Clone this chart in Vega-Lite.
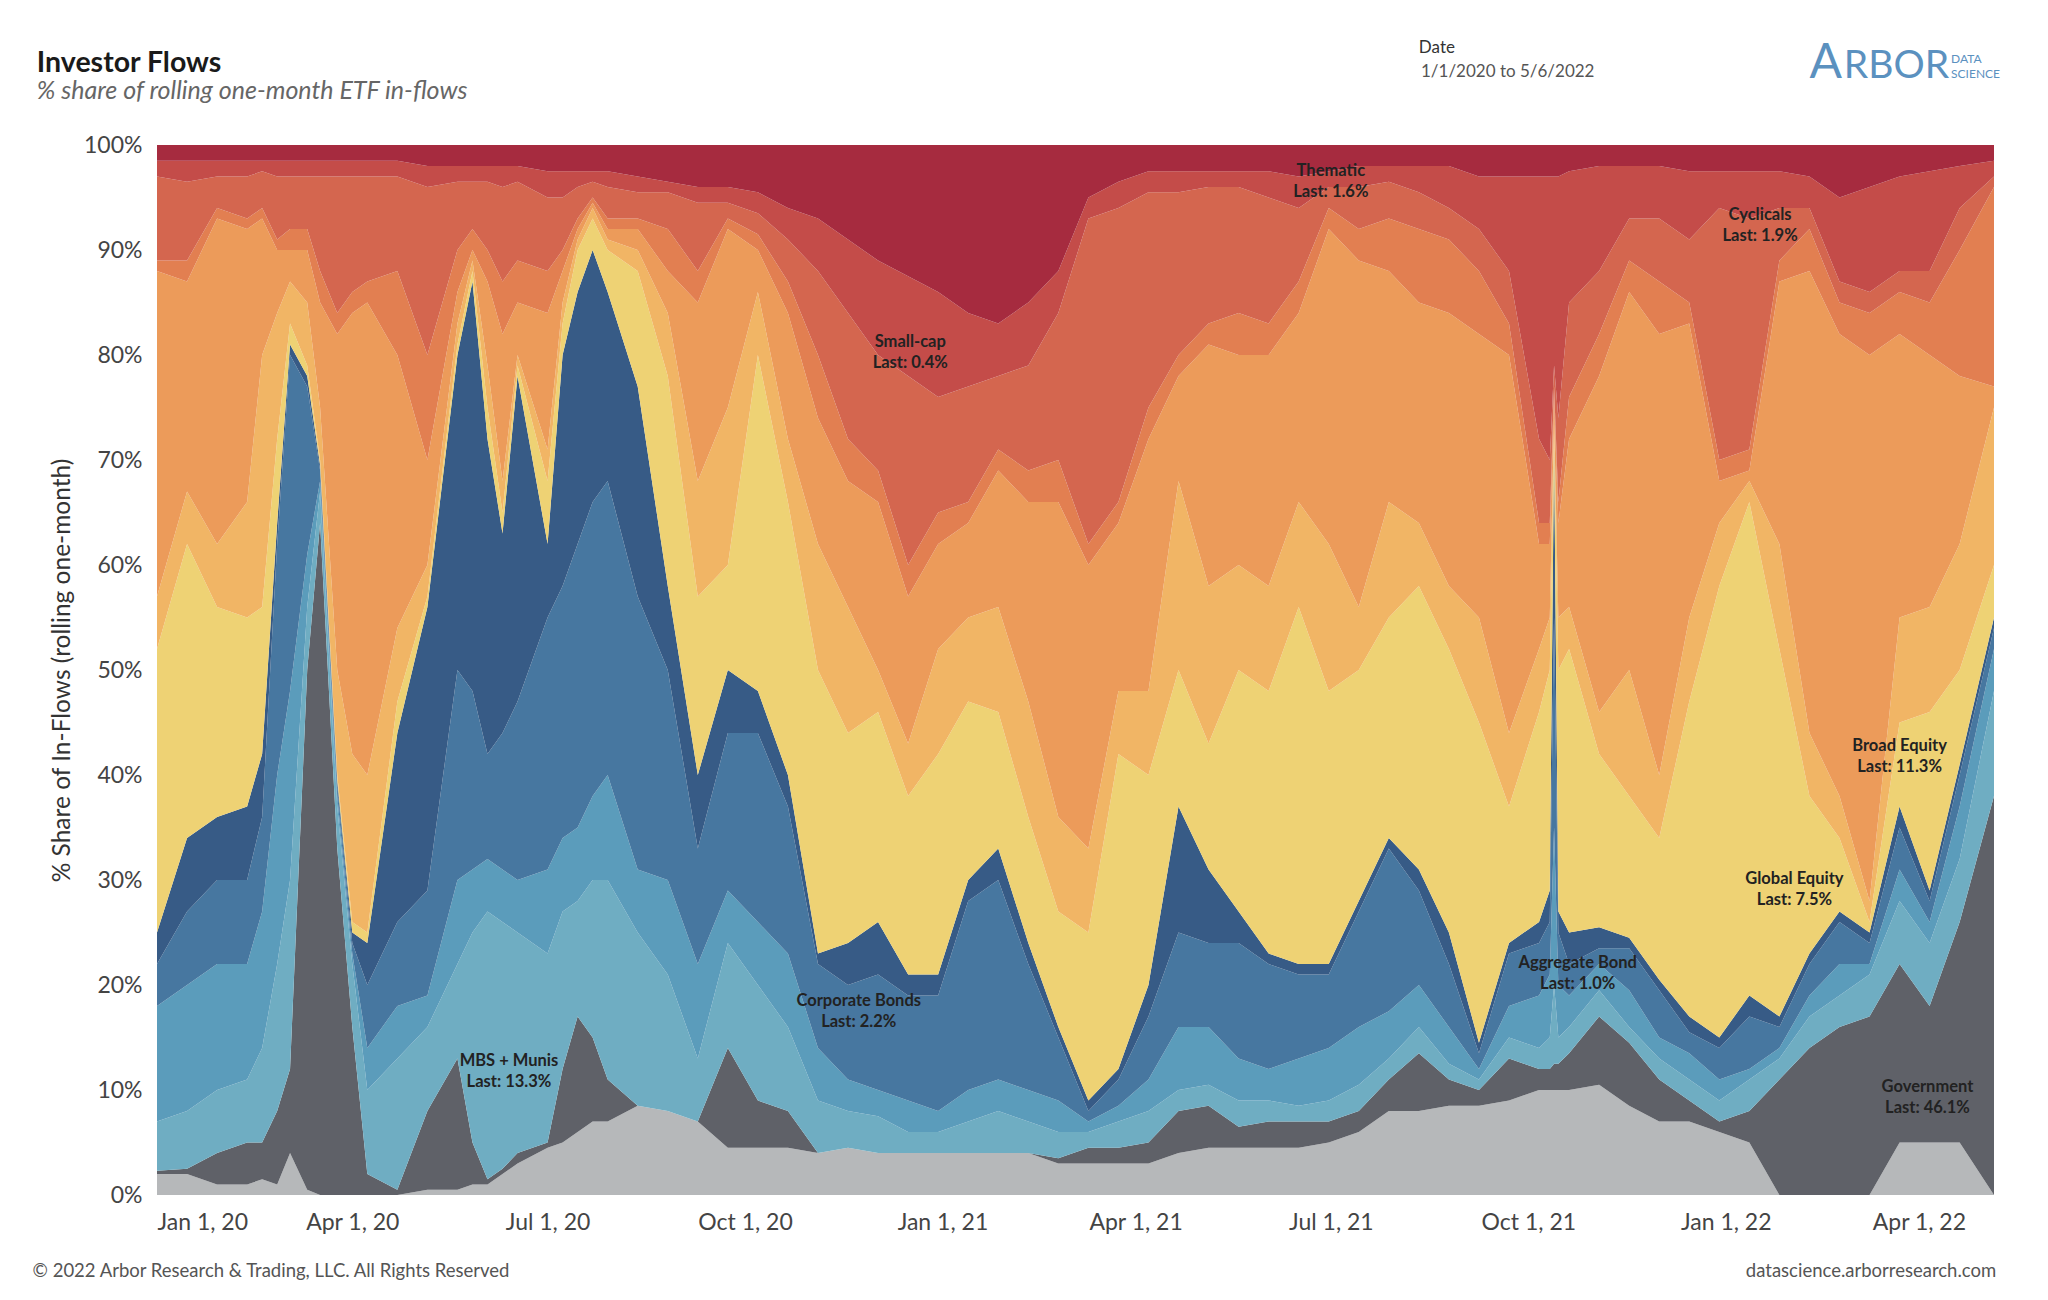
{
  "$schema": "https://vega.github.io/schema/vega-lite/v6.json",
  "width": 1837,
  "height": 1050,
  "autosize": {"type": "none"},
  "padding": {"left": 157, "top": 145, "right": 54, "bottom": 105},
  "background": "white",
  "config": {"view": {"stroke": null}, "font": "Lato"},
  "datasets": {
    "series": [
      {"s": "cash", "rank": 1},
      {"s": "gov", "rank": 2},
      {"s": "mbs", "rank": 3},
      {"s": "hy", "rank": 4},
      {"s": "corp", "rank": 5},
      {"s": "agg", "rank": 6},
      {"s": "global", "rank": 7},
      {"s": "broad", "rank": 8},
      {"s": "growth", "rank": 9},
      {"s": "value", "rank": 10},
      {"s": "cyc", "rank": 11},
      {"s": "small", "rank": 12},
      {"s": "thematic", "rank": 13}
    ],
    "labels": [
      {"d": "2021-07-01", "p": 0.975, "t": "Thematic\nLast: 1.6%"},
      {"d": "2022-01-17", "p": 0.933, "t": "Cyclicals\nLast: 1.9%"},
      {"d": "2020-12-17", "p": 0.812, "t": "Small-cap\nLast: 0.4%"},
      {"d": "2022-03-23", "p": 0.428, "t": "Broad Equity\nLast: 11.3%"},
      {"d": "2022-02-02", "p": 0.301, "t": "Global Equity\nLast: 7.5%"},
      {"d": "2021-10-24", "p": 0.221, "t": "Aggregate Bond\nLast: 1.0%"},
      {"d": "2020-11-23", "p": 0.185, "t": "Corporate Bonds\nLast: 2.2%"},
      {"d": "2020-06-13", "p": 0.128, "t": "MBS + Munis\nLast: 13.3%"},
      {"d": "2022-04-05", "p": 0.103, "t": "Government\nLast: 46.1%"}
    ],
    "flows": [
      {"d": "2020-01-01", "cash": 2, "gov": 0.3, "mbs": 4.7, "hy": 11, "corp": 4, "agg": 3, "global": 27, "broad": 5, "growth": 31, "value": 1, "cyc": 8, "small": 1.5, "thematic": 1.5},
      {"d": "2020-01-15", "cash": 2, "gov": 0.5, "mbs": 5.5, "hy": 12, "corp": 7, "agg": 7, "global": 28, "broad": 5, "growth": 20, "value": 2, "cyc": 7.5, "small": 2, "thematic": 1.5},
      {"d": "2020-01-29", "cash": 1, "gov": 3, "mbs": 6, "hy": 12, "corp": 8, "agg": 6, "global": 20, "broad": 6, "growth": 31, "value": 1, "cyc": 3, "small": 1.5, "thematic": 1.5},
      {"d": "2020-02-12", "cash": 1, "gov": 4, "mbs": 6, "hy": 11, "corp": 8, "agg": 7, "global": 18, "broad": 11, "growth": 26, "value": 1, "cyc": 4, "small": 1.5, "thematic": 1.5},
      {"d": "2020-02-19", "cash": 1.5, "gov": 3.5, "mbs": 9, "hy": 13, "corp": 9, "agg": 6, "global": 14, "broad": 24, "growth": 13, "value": 1, "cyc": 3.5, "small": 1, "thematic": 1.5},
      {"d": "2020-02-26", "cash": 1, "gov": 7, "mbs": 14, "hy": 18, "corp": 22, "agg": 2, "global": 8, "broad": 12, "growth": 6, "value": 1, "cyc": 6, "small": 1.5, "thematic": 1.5},
      {"d": "2020-03-03", "cash": 4, "gov": 8, "mbs": 18, "hy": 18, "corp": 32, "agg": 1, "global": 2, "broad": 4, "growth": 3, "value": 2, "cyc": 5, "small": 1.5, "thematic": 1.5},
      {"d": "2020-03-11", "cash": 0.5, "gov": 49.5, "mbs": 6, "hy": 5, "corp": 16, "agg": 1, "global": 1, "broad": 6, "growth": 5, "value": 2, "cyc": 5, "small": 1.5, "thematic": 1.5},
      {"d": "2020-03-17", "cash": 0, "gov": 64, "mbs": 3, "hy": 1, "corp": 1, "agg": 0.5, "global": 0.5, "broad": 5, "growth": 10, "value": 3, "cyc": 9, "small": 1.5, "thematic": 1.5},
      {"d": "2020-03-25", "cash": 0, "gov": 33, "mbs": 4, "hy": 1, "corp": 1, "agg": 0.5, "global": 0.5, "broad": 10, "growth": 32, "value": 2, "cyc": 13, "small": 1.5, "thematic": 1.5},
      {"d": "2020-04-01", "cash": 0, "gov": 16, "mbs": 6, "hy": 1, "corp": 1, "agg": 1, "global": 1, "broad": 16, "growth": 42, "value": 2, "cyc": 11, "small": 1.5, "thematic": 1.5},
      {"d": "2020-04-08", "cash": 0, "gov": 2, "mbs": 8, "hy": 4, "corp": 6, "agg": 4, "global": 1, "broad": 15, "growth": 45, "value": 2, "cyc": 10, "small": 1.5, "thematic": 1.5},
      {"d": "2020-04-22", "cash": 0, "gov": 0.5, "mbs": 12.5, "hy": 5, "corp": 8, "agg": 18, "global": 3, "broad": 7, "growth": 26, "value": 8, "cyc": 9, "small": 1.5, "thematic": 1.5},
      {"d": "2020-05-06", "cash": 0.5, "gov": 7.5, "mbs": 8, "hy": 3, "corp": 10, "agg": 27, "global": 1, "broad": 3, "growth": 10, "value": 10, "cyc": 16, "small": 2, "thematic": 2},
      {"d": "2020-05-20", "cash": 0.5, "gov": 12.5, "mbs": 9, "hy": 8, "corp": 20, "agg": 30, "global": 1, "broad": 2, "growth": 3, "value": 4, "cyc": 6.5, "small": 1.5, "thematic": 2},
      {"d": "2020-05-27", "cash": 1, "gov": 4, "mbs": 20, "hy": 6, "corp": 17, "agg": 39, "global": 1, "broad": 1, "growth": 1, "value": 2, "cyc": 4.5, "small": 1.5, "thematic": 2},
      {"d": "2020-06-03", "cash": 1, "gov": 0.5, "mbs": 25.5, "hy": 5, "corp": 10, "agg": 30, "global": 3, "broad": 4, "growth": 8, "value": 3, "cyc": 6.5, "small": 1.5, "thematic": 2},
      {"d": "2020-06-10", "cash": 2, "gov": 0.5, "mbs": 23.5, "hy": 5, "corp": 13, "agg": 19, "global": 2, "broad": 3, "growth": 14, "value": 5, "cyc": 9, "small": 2, "thematic": 2},
      {"d": "2020-06-17", "cash": 3, "gov": 1, "mbs": 21, "hy": 5, "corp": 17, "agg": 31, "global": 1, "broad": 1, "growth": 5, "value": 4, "cyc": 7.5, "small": 1.5, "thematic": 2},
      {"d": "2020-07-01", "cash": 4.5, "gov": 0.5, "mbs": 18, "hy": 8, "corp": 24, "agg": 7, "global": 6, "broad": 3, "growth": 13, "value": 4, "cyc": 7, "small": 2.5, "thematic": 2.5},
      {"d": "2020-07-08", "cash": 5, "gov": 7, "mbs": 15, "hy": 7, "corp": 24, "agg": 22, "global": 3, "broad": 2, "growth": 3, "value": 2, "cyc": 5, "small": 2.5, "thematic": 2.5},
      {"d": "2020-07-15", "cash": 6, "gov": 11, "mbs": 11, "hy": 7, "corp": 27, "agg": 24, "global": 4, "broad": 1, "growth": 1, "value": 1, "cyc": 3, "small": 1.5, "thematic": 2.5},
      {"d": "2020-07-22", "cash": 7, "gov": 8, "mbs": 15, "hy": 8, "corp": 28, "agg": 24, "global": 3, "broad": 1, "growth": 0.5, "value": 0.5, "cyc": 1.5, "small": 1, "thematic": 2.5},
      {"d": "2020-07-29", "cash": 7, "gov": 4, "mbs": 19, "hy": 10, "corp": 28, "agg": 18, "global": 4, "broad": 1, "growth": 1, "value": 1, "cyc": 3, "small": 1.5, "thematic": 2.5},
      {"d": "2020-08-12", "cash": 8.5, "gov": 0, "mbs": 16.5, "hy": 6, "corp": 26, "agg": 20, "global": 11, "broad": 2, "growth": 2, "value": 1, "cyc": 2.5, "small": 1.5, "thematic": 3},
      {"d": "2020-08-26", "cash": 8, "gov": 0, "mbs": 13, "hy": 9, "corp": 20, "agg": 8, "global": 20, "broad": 6, "growth": 4, "value": 4, "cyc": 3.5, "small": 1, "thematic": 3.5},
      {"d": "2020-09-09", "cash": 7, "gov": 0, "mbs": 6, "hy": 9, "corp": 11, "agg": 7, "global": 17, "broad": 11, "growth": 17, "value": 3, "cyc": 6.5, "small": 1.5, "thematic": 4},
      {"d": "2020-09-23", "cash": 4.5, "gov": 9.5, "mbs": 10, "hy": 5, "corp": 15, "agg": 6, "global": 10, "broad": 15, "growth": 17, "value": 1, "cyc": 1.5, "small": 1.5, "thematic": 4},
      {"d": "2020-10-07", "cash": 4.5, "gov": 4.5, "mbs": 11, "hy": 6, "corp": 18, "agg": 4, "global": 32, "broad": 6, "growth": 4, "value": 1.5, "cyc": 2, "small": 2, "thematic": 4.5},
      {"d": "2020-10-21", "cash": 4.5, "gov": 3.5, "mbs": 8, "hy": 7, "corp": 14, "agg": 3, "global": 26, "broad": 6, "growth": 12, "value": 3, "cyc": 4, "small": 3, "thematic": 6},
      {"d": "2020-11-04", "cash": 4, "gov": 0, "mbs": 5, "hy": 5, "corp": 8, "agg": 1, "global": 27, "broad": 12, "growth": 12, "value": 6, "cyc": 8, "small": 5, "thematic": 7},
      {"d": "2020-11-18", "cash": 4.5, "gov": 0, "mbs": 3.5, "hy": 3, "corp": 9, "agg": 4, "global": 20, "broad": 12, "growth": 12, "value": 4, "cyc": 12, "small": 7, "thematic": 9},
      {"d": "2020-12-02", "cash": 4, "gov": 0, "mbs": 3.5, "hy": 2.5, "corp": 11, "agg": 5, "global": 20, "broad": 4, "growth": 16, "value": 3, "cyc": 11, "small": 9, "thematic": 11},
      {"d": "2020-12-16", "cash": 4, "gov": 0, "mbs": 2, "hy": 3, "corp": 10, "agg": 2, "global": 17, "broad": 5, "growth": 14, "value": 3, "cyc": 18, "small": 9.5, "thematic": 12.5},
      {"d": "2020-12-30", "cash": 4, "gov": 0, "mbs": 2, "hy": 2, "corp": 11, "agg": 2, "global": 21, "broad": 10, "growth": 10, "value": 3, "cyc": 11, "small": 10, "thematic": 14},
      {"d": "2021-01-13", "cash": 4, "gov": 0, "mbs": 3, "hy": 3, "corp": 18, "agg": 2, "global": 17, "broad": 8, "growth": 9, "value": 2, "cyc": 11, "small": 7, "thematic": 16},
      {"d": "2021-01-27", "cash": 4, "gov": 0, "mbs": 4, "hy": 3, "corp": 19, "agg": 3, "global": 13, "broad": 10, "growth": 13, "value": 2, "cyc": 7, "small": 5, "thematic": 17},
      {"d": "2021-02-10", "cash": 4, "gov": 0, "mbs": 3, "hy": 3, "corp": 12, "agg": 2, "global": 12, "broad": 11, "growth": 19, "value": 3, "cyc": 10, "small": 6, "thematic": 15},
      {"d": "2021-02-24", "cash": 3, "gov": 0.5, "mbs": 2.5, "hy": 3, "corp": 6, "agg": 1, "global": 11, "broad": 9, "growth": 30, "value": 4, "cyc": 14, "small": 4, "thematic": 12},
      {"d": "2021-03-10", "cash": 3, "gov": 1.5, "mbs": 1.5, "hy": 1, "corp": 1, "agg": 1, "global": 16, "broad": 8, "growth": 27, "value": 2, "cyc": 31, "small": 2, "thematic": 5},
      {"d": "2021-03-24", "cash": 3, "gov": 1.5, "mbs": 2.5, "hy": 1.5, "corp": 2.5, "agg": 1, "global": 30, "broad": 6, "growth": 16, "value": 2, "cyc": 28, "small": 2.5, "thematic": 3.5},
      {"d": "2021-04-07", "cash": 3, "gov": 2, "mbs": 3, "hy": 3, "corp": 6, "agg": 3, "global": 20, "broad": 8, "growth": 24, "value": 3, "cyc": 20.5, "small": 2, "thematic": 2.5},
      {"d": "2021-04-21", "cash": 4, "gov": 4, "mbs": 2, "hy": 6, "corp": 9, "agg": 12, "global": 13, "broad": 18, "growth": 10, "value": 2, "cyc": 15.5, "small": 2, "thematic": 2.5},
      {"d": "2021-05-05", "cash": 4.5, "gov": 4, "mbs": 2, "hy": 5.5, "corp": 8, "agg": 7, "global": 12, "broad": 15, "growth": 23, "value": 2, "cyc": 13, "small": 1.5, "thematic": 2.5},
      {"d": "2021-05-19", "cash": 4.5, "gov": 2, "mbs": 2.5, "hy": 4, "corp": 11, "agg": 3, "global": 23, "broad": 10, "growth": 20, "value": 4, "cyc": 12, "small": 1.5, "thematic": 2.5},
      {"d": "2021-06-02", "cash": 4.5, "gov": 2.5, "mbs": 2, "hy": 3, "corp": 10, "agg": 1, "global": 25, "broad": 10, "growth": 22, "value": 3, "cyc": 12, "small": 2.5, "thematic": 2.5},
      {"d": "2021-06-16", "cash": 4.5, "gov": 2.5, "mbs": 1.5, "hy": 4.5, "corp": 8, "agg": 1, "global": 34, "broad": 10, "growth": 18, "value": 3, "cyc": 7, "small": 3, "thematic": 3},
      {"d": "2021-06-30", "cash": 5, "gov": 2, "mbs": 2, "hy": 5, "corp": 7, "agg": 1, "global": 26, "broad": 14, "growth": 30, "value": 2, "cyc": 2, "small": 1.5, "thematic": 2.5},
      {"d": "2021-07-14", "cash": 6, "gov": 2, "mbs": 2.5, "hy": 5.5, "corp": 11, "agg": 1, "global": 22, "broad": 6, "growth": 33, "value": 3, "cyc": 4, "small": 2, "thematic": 2},
      {"d": "2021-07-28", "cash": 8, "gov": 3, "mbs": 2, "hy": 4.5, "corp": 15.5, "agg": 1, "global": 21, "broad": 11, "growth": 22, "value": 5, "cyc": 3.5, "small": 1.5, "thematic": 2},
      {"d": "2021-08-11", "cash": 8, "gov": 5.5, "mbs": 2.5, "hy": 4, "corp": 9, "agg": 2, "global": 27, "broad": 6, "growth": 21, "value": 7, "cyc": 3.5, "small": 2.5, "thematic": 2},
      {"d": "2021-08-25", "cash": 8.5, "gov": 2.5, "mbs": 1.5, "hy": 3.5, "corp": 6, "agg": 3, "global": 27, "broad": 6, "growth": 26, "value": 7, "cyc": 3, "small": 4, "thematic": 2},
      {"d": "2021-09-08", "cash": 8.5, "gov": 1.5, "mbs": 1, "hy": 1, "corp": 1.5, "agg": 1, "global": 30.5, "broad": 10, "growth": 27, "value": 6, "cyc": 4, "small": 5, "thematic": 3},
      {"d": "2021-09-22", "cash": 9, "gov": 4, "mbs": 2, "hy": 3, "corp": 5, "agg": 1, "global": 13, "broad": 7, "growth": 36, "value": 3, "cyc": 5, "small": 9, "thematic": 3},
      {"d": "2021-10-06", "cash": 10, "gov": 2, "mbs": 2, "hy": 5, "corp": 5, "agg": 2, "global": 20, "broad": 6, "growth": 10, "value": 2, "cyc": 8, "small": 25, "thematic": 3},
      {"d": "2021-10-11", "cash": 10, "gov": 2, "mbs": 3, "hy": 6, "corp": 5, "agg": 3, "global": 21, "broad": 5, "growth": 7, "value": 2, "cyc": 6, "small": 27, "thematic": 3},
      {"d": "2021-10-13", "cash": 10, "gov": 2.5, "mbs": 7.5, "hy": 15, "corp": 20, "agg": 16, "global": 2, "broad": 1, "growth": 2, "value": 1, "cyc": 2, "small": 18, "thematic": 3},
      {"d": "2021-10-15", "cash": 10, "gov": 2.5, "mbs": 2.5, "hy": 5, "corp": 5, "agg": 2, "global": 23, "broad": 5, "growth": 9, "value": 2, "cyc": 8, "small": 23, "thematic": 3},
      {"d": "2021-10-20", "cash": 10, "gov": 3.5, "mbs": 2.5, "hy": 3, "corp": 3, "agg": 3, "global": 27, "broad": 4, "growth": 16, "value": 4, "cyc": 9, "small": 12.5, "thematic": 2.5},
      {"d": "2021-11-03", "cash": 10.5, "gov": 6.5, "mbs": 2.5, "hy": 2.5, "corp": 1.5, "agg": 2, "global": 16.5, "broad": 4, "growth": 32, "value": 4, "cyc": 6, "small": 10, "thematic": 2},
      {"d": "2021-11-17", "cash": 8.5, "gov": 6, "mbs": 1.5, "hy": 3.5, "corp": 4, "agg": 1, "global": 13.5, "broad": 12, "growth": 36, "value": 3, "cyc": 4, "small": 5, "thematic": 2},
      {"d": "2021-12-01", "cash": 7, "gov": 4, "mbs": 2, "hy": 2, "corp": 4.5, "agg": 1, "global": 13.5, "broad": 6, "growth": 42, "value": 5, "cyc": 6, "small": 5, "thematic": 2},
      {"d": "2021-12-15", "cash": 7, "gov": 2, "mbs": 2, "hy": 2.5, "corp": 2, "agg": 1.5, "global": 30, "broad": 8, "growth": 28, "value": 2, "cyc": 6, "small": 6.5, "thematic": 2.5},
      {"d": "2021-12-29", "cash": 6, "gov": 1, "mbs": 2, "hy": 2, "corp": 3, "agg": 1, "global": 43, "broad": 6, "growth": 4, "value": 2, "cyc": 24, "small": 3.5, "thematic": 2.5},
      {"d": "2022-01-12", "cash": 5, "gov": 3, "mbs": 3, "hy": 1, "corp": 5, "agg": 2, "global": 47, "broad": 2, "growth": 1, "value": 2, "cyc": 22, "small": 4.5, "thematic": 2.5},
      {"d": "2022-01-26", "cash": 0, "gov": 11, "mbs": 2, "hy": 1, "corp": 2, "agg": 1, "global": 35, "broad": 10, "growth": 25, "value": 2, "cyc": 5, "small": 3.5, "thematic": 2.5},
      {"d": "2022-02-09", "cash": 0, "gov": 14, "mbs": 3, "hy": 2, "corp": 3, "agg": 1, "global": 15, "broad": 6, "growth": 44, "value": 4, "cyc": 2, "small": 3, "thematic": 3},
      {"d": "2022-02-23", "cash": 0, "gov": 16, "mbs": 3, "hy": 3, "corp": 4, "agg": 1, "global": 7, "broad": 4, "growth": 44, "value": 3, "cyc": 2, "small": 8, "thematic": 5},
      {"d": "2022-03-09", "cash": 0, "gov": 17, "mbs": 4, "hy": 1, "corp": 2, "agg": 1, "global": 1, "broad": 2, "growth": 52, "value": 4, "cyc": 2, "small": 10, "thematic": 4},
      {"d": "2022-03-23", "cash": 5, "gov": 17, "mbs": 6, "hy": 3, "corp": 4, "agg": 2, "global": 8, "broad": 10, "growth": 27, "value": 4, "cyc": 2, "small": 9, "thematic": 3},
      {"d": "2022-04-06", "cash": 5, "gov": 13, "mbs": 6, "hy": 2, "corp": 2, "agg": 1, "global": 17, "broad": 10, "growth": 24, "value": 5, "cyc": 3, "small": 9.5, "thematic": 2.5},
      {"d": "2022-04-20", "cash": 5, "gov": 21, "mbs": 6, "hy": 5, "corp": 3, "agg": 1, "global": 9, "broad": 12, "growth": 16, "value": 12, "cyc": 4, "small": 4, "thematic": 2},
      {"d": "2022-05-06", "cash": 0, "gov": 38, "mbs": 10, "hy": 4, "corp": 2, "agg": 1, "global": 5, "broad": 15, "growth": 2, "value": 19, "cyc": 1, "small": 1.5, "thematic": 1.5}
    ]
  },
  "layer": [
    {
      "data": {"name": "flows"},
      "transform": [
        {"fold": ["cash", "gov", "mbs", "hy", "corp", "agg", "global", "broad", "growth", "value", "cyc", "small", "thematic"], "as": ["s", "v"]},
        {"lookup": "s", "from": {"data": {"name": "series"}, "key": "s", "fields": ["rank"]}}
      ],
      "mark": {"type": "area", "interpolate": "linear"},
      "encoding": {
        "x": {
          "field": "d",
          "type": "temporal",
          "scale": {
            "type": "utc",
            "nice": false,
            "domain": [
              {"year": 2020, "month": 1, "date": 1, "utc": true},
              {"year": 2022, "month": 5, "date": 6, "utc": true}
            ]
          },
          "axis": {
            "title": null,
            "values": [
              {"year": 2020, "month": 1, "date": 1, "utc": true},
              {"year": 2020, "month": 4, "date": 1, "utc": true},
              {"year": 2020, "month": 7, "date": 1, "utc": true},
              {"year": 2020, "month": 10, "date": 1, "utc": true},
              {"year": 2021, "month": 1, "date": 1, "utc": true},
              {"year": 2021, "month": 4, "date": 1, "utc": true},
              {"year": 2021, "month": 7, "date": 1, "utc": true},
              {"year": 2021, "month": 10, "date": 1, "utc": true},
              {"year": 2022, "month": 1, "date": 1, "utc": true},
              {"year": 2022, "month": 4, "date": 1, "utc": true}
            ],
            "labelExpr": "utcFormat(datum.value, '%b %-d, %y')",
            "labelFontSize": 23,
            "labelColor": "#444444",
            "labelPadding": 16,
            "labelFlush": true,
            "labelOverlap": false,
            "ticks": false,
            "domain": false,
            "grid": false
          }
        },
        "y": {
          "field": "v",
          "type": "quantitative",
          "stack": "normalize",
          "scale": {"domain": [0, 1], "nice": false},
          "axis": {
            "title": "% Share of In-Flows (rolling one-month)",
            "titleFontSize": 24.5,
            "titleFontWeight": "normal",
            "titleColor": "#333333",
            "titlePadding": 9,
            "values": [0, 0.1, 0.2, 0.3, 0.4, 0.5, 0.6, 0.7, 0.8, 0.9, 1],
            "format": ".0%",
            "labelFontSize": 23,
            "labelColor": "#444444",
            "labelPadding": 15,
            "ticks": false,
            "domain": false,
            "grid": false
          }
        },
        "color": {
          "field": "s",
          "type": "nominal",
          "legend": null,
          "scale": {
            "domain": ["cash", "gov", "mbs", "hy", "corp", "agg", "global", "broad", "growth", "value", "cyc", "small", "thematic"],
            "range": ["#b6b8ba", "#5f6168", "#6fadc2", "#5b9cbb", "#4777a0", "#375b86", "#eed274", "#f1b565", "#ec9b5a", "#e27f51", "#d4664f", "#c44c49", "#a62b3f"]
          }
        },
        "order": {"field": "rank", "type": "quantitative", "sort": "ascending"}
      }
    },
    {
      "data": {"name": "labels"},
      "mark": {"type": "text", "lineBreak": "\n", "fontWeight": "bold", "fontSize": 16.5, "lineHeight": 21, "color": "#222222", "align": "center", "baseline": "middle"},
      "encoding": {
        "x": {"field": "d", "type": "temporal", "scale": {"type": "utc"}},
        "y": {"field": "p", "type": "quantitative"},
        "text": {"field": "t"}
      }
    },
    {
      "data": {"values": [{}]},
      "mark": {"type": "text", "text": "Investor Flows", "align": "left", "baseline": "alphabetic", "fontSize": 28.5, "fontWeight": "bold", "color": "#1a1a1a"},
      "encoding": {
        "x": {"datum": {"year": 2019, "month": 11, "date": 6, "utc": true}, "type": "temporal", "scale": {"type": "utc"}},
        "y": {"datum": 1.0695, "type": "quantitative"}
      }
    },
    {
      "data": {"values": [{}]},
      "mark": {"type": "text", "text": "% share of rolling one-month ETF in-flows", "align": "left", "baseline": "alphabetic", "fontSize": 25, "fontStyle": "italic", "color": "#666666"},
      "encoding": {
        "x": {"datum": {"year": 2019, "month": 11, "date": 6, "utc": true}, "type": "temporal", "scale": {"type": "utc"}},
        "y": {"datum": 1.0438, "type": "quantitative"}
      }
    },
    {
      "data": {"values": [{}]},
      "mark": {"type": "text", "text": "Date", "align": "left", "baseline": "middle", "fontSize": 17, "color": "#333333"},
      "encoding": {
        "x": {"datum": {"year": 2021, "month": 8, "date": 11, "utc": true}, "type": "temporal", "scale": {"type": "utc"}},
        "y": {"datum": 1.092, "type": "quantitative"}
      }
    },
    {
      "data": {"values": [{}]},
      "mark": {"type": "text", "text": "1/1/2020 to 5/6/2022", "align": "left", "baseline": "middle", "fontSize": 17, "color": "#555555"},
      "encoding": {
        "x": {"datum": {"year": 2021, "month": 8, "date": 12, "utc": true}, "type": "temporal", "scale": {"type": "utc"}},
        "y": {"datum": 1.07, "type": "quantitative"}
      }
    },
    {
      "data": {"values": [{}]},
      "mark": {"type": "text", "text": "A", "align": "left", "baseline": "alphabetic", "fontSize": 48, "color": "#5b91bf"},
      "encoding": {
        "x": {"datum": {"year": 2022, "month": 2, "date": 9, "utc": true}, "type": "temporal", "scale": {"type": "utc"}},
        "y": {"datum": 1.0638, "type": "quantitative"}
      }
    },
    {
      "data": {"values": [{}]},
      "mark": {"type": "text", "text": "RBOR", "align": "left", "baseline": "alphabetic", "fontSize": 39, "color": "#5b91bf"},
      "encoding": {
        "x": {"datum": {"year": 2022, "month": 2, "date": 25, "utc": true}, "type": "temporal", "scale": {"type": "utc"}},
        "y": {"datum": 1.0638, "type": "quantitative"}
      }
    },
    {
      "data": {"values": [{}]},
      "mark": {"type": "text", "text": "DATA", "align": "left", "baseline": "alphabetic", "fontSize": 12, "color": "#5b91bf"},
      "encoding": {
        "x": {"datum": {"year": 2022, "month": 4, "date": 16, "utc": true}, "type": "temporal", "scale": {"type": "utc"}},
        "y": {"datum": 1.078, "type": "quantitative"}
      }
    },
    {
      "data": {"values": [{}]},
      "mark": {"type": "text", "text": "SCIENCE", "align": "left", "baseline": "alphabetic", "fontSize": 12, "color": "#5b91bf"},
      "encoding": {
        "x": {"datum": {"year": 2022, "month": 4, "date": 16, "utc": true}, "type": "temporal", "scale": {"type": "utc"}},
        "y": {"datum": 1.0638, "type": "quantitative"}
      }
    },
    {
      "data": {"values": [{}]},
      "mark": {"type": "text", "text": "© 2022 Arbor Research & Trading, LLC. All Rights Reserved", "align": "left", "baseline": "middle", "fontSize": 18.5, "color": "#555555"},
      "encoding": {
        "x": {"datum": {"year": 2019, "month": 11, "date": 4, "utc": true}, "type": "temporal", "scale": {"type": "utc"}},
        "y": {"datum": -0.0724, "type": "quantitative"}
      }
    },
    {
      "data": {"values": [{}]},
      "mark": {"type": "text", "text": "datascience.arborresearch.com", "align": "right", "baseline": "middle", "fontSize": 18.5, "color": "#555555"},
      "encoding": {
        "x": {"datum": {"year": 2022, "month": 5, "date": 7, "utc": true}, "type": "temporal", "scale": {"type": "utc"}},
        "y": {"datum": -0.0724, "type": "quantitative"}
      }
    }
  ]
}
